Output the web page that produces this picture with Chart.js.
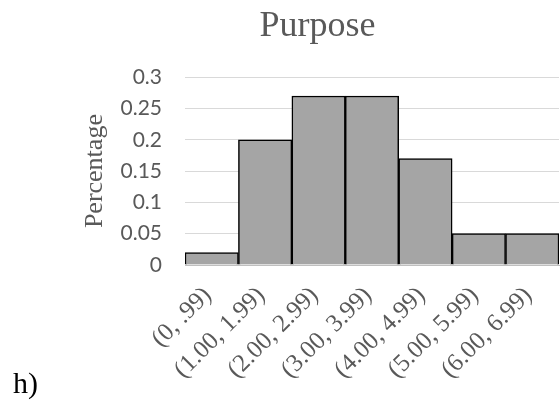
<!DOCTYPE html>
<html>
<head>
<meta charset="utf-8">
<script src="https://cdn.jsdelivr.net/npm/chart.js@4.4.0/dist/chart.umd.min.js"></script>
<style>
  body { margin: 0; background: #fff; overflow: hidden; }
  #wrap { position: relative; width: 560px; height: 407px; }
  #tag {
    position: absolute; left: 13px; top: 368px;
    font-family: "Liberation Serif", "Times New Roman", serif;
    font-size: 30px; line-height: 1; color: #000;
  }
</style>
</head>
<body>
<div id="wrap">
  <canvas id="purposeChart" width="560" height="407"></canvas>
  <div id="tag">h)</div>
</div>
<script>
// bins and their share of responses
var bins = ['(0, .99)', '(1.00, 1.99)', '(2.00, 2.99)', '(3.00, 3.99)', '(4.00, 4.99)', '(5.00, 5.99)', '(6.00, 6.99)'];
var shares = [0.02, 0.20, 0.27, 0.27, 0.17, 0.05, 0.05];
var yTicks = [0, 0.05, 0.1, 0.15, 0.2, 0.25, 0.3];

var serif = '"Liberation Serif", "Times New Roman", serif';
var grey = '#595959';

var ctx = document.getElementById('purposeChart').getContext('2d');
var purposeChart = new Chart(ctx, {
  type: 'bar',
  data: {
    labels: bins,
    datasets: [{
      data: shares,
      backgroundColor: '#a5a5a5',
      borderColor: '#000000',
      borderWidth: 1.5,
      categoryPercentage: 1,
      barPercentage: 1
    }]
  },
  options: {
    responsive: false,
    animation: false,
    layout: { padding: { left: 76, right: 1, top: 0, bottom: 0 } },
    plugins: {
      legend: { display: false },
      tooltip: { enabled: false },
      title: {
        display: true,
        text: 'Purpose',
        color: grey,
        font: { family: serif, size: 36, weight: 'normal' },
        padding: { top: 5, bottom: 29 }
      }
    },
    scales: {
      x: {
        grid: { display: false, drawTicks: false },
        border: { display: true, color: '#bfbfbf', width: 1 },
        ticks: {
          color: grey,
          font: { family: serif, size: 25 },
          minRotation: 45,
          maxRotation: 45,
          autoSkip: false,
          padding: 16,
          labelOffset: -4
        },
        afterFit: function(scale) {
          scale.height = 142;
          // last label ends at its tick, so the bars may run to the edge
          scale.paddingRight = 0;
        }
      },
      y: {
        min: 0,
        max: 0.3,
        afterBuildTicks: function(scale) {
          scale.ticks = yTicks.map(function(v) { return { value: v }; });
        },
        grid: { color: '#d9d9d9', lineWidth: 1, drawTicks: false },
        border: { display: false },
        ticks: {
          color: grey,
          font: { family: 'Lato', size: 21 },
          padding: 23,
          callback: function(value) { return String(Number(value.toFixed(2))); }
        },
        title: {
          display: true,
          text: 'Percentage',
          color: grey,
          font: { family: serif, size: 26 },
          padding: { top: 4, bottom: 0 }
        },
        afterFit: function(scale) { scale.width = 109; }
      }
    }
  }
});
</script>
</body>
</html>
